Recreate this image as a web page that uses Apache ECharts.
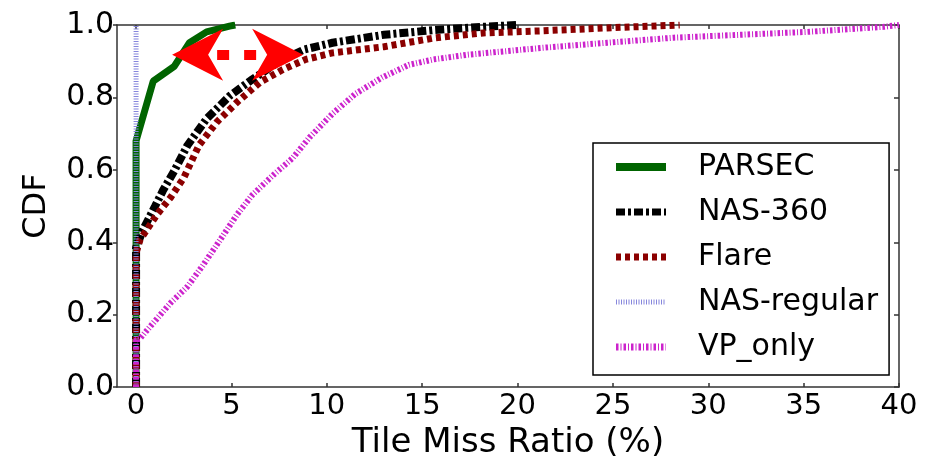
<!DOCTYPE html>
<html>
<head>
<meta charset="utf-8">
<script src="https://cdn.jsdelivr.net/npm/echarts@6/dist/echarts.min.js"></script>
<style>html,body{margin:0;padding:0;background:#fff;}#c{width:936px;height:465px;}</style>
</head>
<body>
<div id="c"></div>
<script>
const seriesNames = ['PARSEC', 'NAS-360', 'Flare', 'NAS-regular', 'VP_only'];
const xTicks = [0, 5, 10, 15, 20, 25, 30, 35, 40];

const parsecX = [0, 0, 0.9, 2.0, 2.8, 3.7, 4.9, 5.2];
const parsecY = [0, 0.68, 0.845, 0.886, 0.951, 0.981, 0.997, 1.0];

const nas360X = [0, 0, 0.35, 1.0, 1.4, 2.0, 2.7, 3.7, 4.9, 6.1, 7.4, 8.8, 10.3, 13.0, 15.6, 18.2, 20.0];
const nas360Y = [0, 0.385, 0.433, 0.50, 0.542, 0.597, 0.668, 0.741, 0.804, 0.85, 0.896, 0.932, 0.951, 0.973, 0.986, 0.995, 1.0];

const flareX = [0, 0, 0.2, 1.1, 1.8, 2.5, 3.3, 4.25, 5.3, 6.5, 7.7, 8.9, 10.3, 13.0, 15.6, 18.2, 21.3, 24.7, 28.5];
const flareY = [0, 0.37, 0.406, 0.477, 0.523, 0.578, 0.668, 0.733, 0.787, 0.842, 0.877, 0.905, 0.923, 0.94, 0.964, 0.978, 0.984, 0.992, 1.0];

const nasRegX = [0, 0];
const nasRegY = [0, 1.0];

const vpX = [0, 0, 0.2, 0.9, 1.8, 2.7, 3.5, 4.4, 5.3, 6.1, 7.2, 8.2, 9.1, 10.3, 11.5, 12.9, 14.3, 15.6, 17.4, 21.3, 24.7, 28.2, 31.7, 35.2, 39.2, 40];
const vpY = [0, 0.13, 0.134, 0.177, 0.232, 0.278, 0.336, 0.406, 0.477, 0.531, 0.586, 0.632, 0.69, 0.755, 0.81, 0.855, 0.89, 0.905, 0.918, 0.937, 0.951, 0.965, 0.973, 0.981, 0.995, 1.0];

// annotation double arrow (data coords): head tips and dashed shaft
const arrowTipX = [1.89, 8.76];
const arrowShaftX = [4.25, 6.3];
const arrowY = 0.918;

function pairs(xs, ys) { return xs.map((x, i) => [x, ys[i]]); }

const FONT = 'DejaVu Sans';
const chart = echarts.init(document.getElementById('c'), null, { renderer: 'canvas' });

const axisLineStyle = { color: '#333', width: 1.5 };
const lineWidths = { 'PARSEC': 8, 'NAS-360': 7, 'Flare': 7, 'NAS-regular': 5, 'VP_only': 7 };

const option = {
  backgroundColor: '#fff',
  animation: false,
  textStyle: { fontFamily: FONT },
  grid: { left: 117, right: 37, top: 25, bottom: 73, containLabel: false },
  legend: {
    orient: 'vertical',
    left: 593, top: 143,
    data: seriesNames.map(n => ({ name: n, lineStyle: { width: lineWidths[n] } })),
    backgroundColor: '#fff',
    borderColor: '#000', borderWidth: 1.5, borderRadius: 0,
    padding: [9, 11, 13, 19],
    itemGap: 15, itemWidth: 50, itemHeight: 4,
    itemStyle: { color: 'rgba(0,0,0,0)', borderColor: 'rgba(0,0,0,0)', borderWidth: 0, opacity: 0 },
    textStyle: { fontFamily: FONT, fontSize: 30, color: '#000', lineHeight: 30, padding: [0, 0, 0, 27] }
  },
  xAxis: [{
    type: 'value', min: -1, max: 40, position: 'bottom',
    name: 'Tile Miss Ratio (%)', nameLocation: 'middle', nameGap: 24,
    nameTextStyle: { fontFamily: FONT, fontSize: 34, color: '#000', verticalAlign: 'top' },
    axisLine: { show: true, onZero: false, lineStyle: axisLineStyle },
    axisTick: { show: true, inside: true, length: 4, customValues: xTicks, lineStyle: axisLineStyle },
    axisLabel: { show: true, customValues: xTicks, fontFamily: FONT, fontSize: 29, color: '#000', margin: 5 },
    splitLine: { show: false }
  }, {
    type: 'value', min: -1, max: 40, position: 'top',
    axisLine: { show: true, onZero: false, lineStyle: axisLineStyle },
    axisTick: { show: true, inside: true, length: 4, customValues: xTicks, lineStyle: axisLineStyle },
    axisLabel: { show: false },
    splitLine: { show: false }
  }],
  yAxis: [{
    type: 'value', min: 0, max: 1, interval: 0.2, position: 'left',
    name: 'CDF', nameLocation: 'middle', nameGap: 64, nameRotate: 90,
    nameTextStyle: { fontFamily: FONT, fontSize: 32, color: '#000' },
    axisLine: { show: true, onZero: false, lineStyle: axisLineStyle },
    axisTick: { show: true, inside: false, length: 4, lineStyle: axisLineStyle },
    axisLabel: { fontFamily: FONT, fontSize: 30, color: '#000', margin: 3, formatter: v => v.toFixed(1) },
    splitLine: { show: false }
  }, {
    type: 'value', min: 0, max: 1, interval: 0.2, position: 'right',
    axisLine: { show: true, onZero: false, lineStyle: axisLineStyle },
    axisTick: { show: true, inside: true, length: 5, lineStyle: axisLineStyle },
    axisLabel: { show: false },
    splitLine: { show: false }
  }],
  series: [
    {
      name: 'PARSEC', type: 'line', data: pairs(parsecX, parsecY), showSymbol: false, symbol: 'none',
      itemStyle: { color: '#006400' },
      lineStyle: { color: '#006400', width: 7, type: 'solid' }, z: 1
    },
    {
      name: 'NAS-360', type: 'line', data: pairs(nas360X, nas360Y), showSymbol: false, symbol: 'none',
      itemStyle: { color: '#000' },
      lineStyle: { color: '#000', width: 8, type: [9, 3, 3, 3] }, z: 3
    },
    {
      name: 'Flare', type: 'line', data: pairs(flareX, flareY), showSymbol: false, symbol: 'none',
      itemStyle: { color: '#8b0000' },
      lineStyle: { color: '#8b0000', width: 7, type: [5, 4] }, z: 4
    },
    {
      name: 'NAS-regular', type: 'line', data: pairs(nasRegX, nasRegY), showSymbol: false, symbol: 'none',
      itemStyle: { color: '#8686dc' },
      lineStyle: { color: '#8686dc', width: 5, type: [1, 1.5] }, z: 5
    },
    {
      name: 'VP_only', type: 'line', data: pairs(vpX, vpY), showSymbol: false, symbol: 'none',
      itemStyle: { color: '#cc22cc' },
      lineStyle: { color: '#cc22cc', width: 6, type: [2.5, 2, 1, 2] }, z: 6
    },
    {
      type: 'line', data: [], z: 20, zlevel: 1, silent: true,
      markLine: {
        silent: true, animation: false, z: 20, zlevel: 1,
        symbol: ['none', 'none'],
        label: { show: false },
        lineStyle: { color: '#ff0000', width: 10, type: [12, 15], opacity: 1 },
        emphasis: { disabled: true },
        data: [[{ coord: [arrowShaftX[0], arrowY] }, { coord: [arrowShaftX[1], arrowY] }]]
      },
      markPoint: {
        silent: true, animation: false, z: 20, zlevel: 1,
        label: { show: false },
        itemStyle: { color: '#ff0000', borderWidth: 0 },
        emphasis: { disabled: true },
        data: [
          { coord: [arrowTipX[0], arrowY], symbol: 'path://M0,26 L51,0 L36,26 L51,52 Z', symbolSize: [51, 52], symbolOffset: [25.5, 0] },
          { coord: [arrowTipX[1], arrowY], symbol: 'path://M51,26 L0,0 L15,26 L0,52 Z', symbolSize: [51, 52], symbolOffset: [-25.5, 0] }
        ]
      }
    }
  ]
};
chart.setOption(option);
</script>
</body>
</html>
